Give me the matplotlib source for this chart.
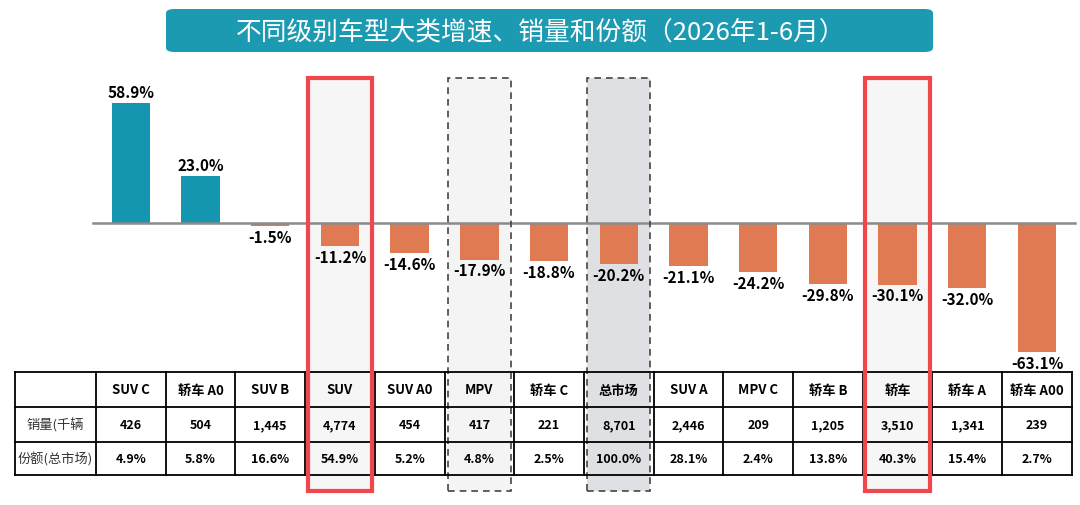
import matplotlib
matplotlib.use("Agg")
import matplotlib.pyplot as plt
from matplotlib.patches import Rectangle, FancyBboxPatch

plt.rcParams['font.family'] = ['Noto Sans CJK SC', 'DejaVu Sans']

# 数据
categories = ["SUV C", "轿车 A0", "SUV B", "SUV", "SUV A0", "MPV", "轿车 C",
              "总市场", "SUV A", "MPV C", "轿车 B", "轿车", "轿车 A", "轿车 A00"]
growth = [58.9, 23.0, -1.5, -11.2, -14.6, -17.9, -18.8,
          -20.2, -21.1, -24.2, -29.8, -30.1, -32.0, -63.1]
sales = ["426", "504", "1,445", "4,774", "454", "417", "221",
         "8,701", "2,446", "209", "1,205", "3,510", "1,341", "239"]
share = ["4.9%", "5.8%", "16.6%", "54.9%", "5.2%", "4.8%", "2.5%",
         "100.0%", "28.1%", "2.4%", "13.8%", "40.3%", "15.4%", "2.7%"]
row_labels = ["销量(千辆", "份额(总市场)"]
title = "不同级别车型大类增速、销量和份额（2026年1-6月）"

red_boxes = ["SUV", "轿车"]
dashed_boxes = {"MPV": "#f4f4f4", "总市场": "#dfe0e3"}

POS = "#1596b0"
NEG = "#e07a52"

W, H = 1080, 506
fig = plt.figure(figsize=(W / 100, H / 100), dpi=100)
ax = fig.add_axes([0, 0, 1, 1])

# 像素 -> 数据 (x: 每列 69.7px, y: 每个百分点 2.045px, 零线在 y=224px)
col_w = 69.7
x_c0 = 130.85
y_zero = 224
y_scale = 2.045
ax.set_xlim(-x_c0 / col_w, (W - x_c0) / col_w)
ax.set_ylim(-(H - y_zero) / y_scale, y_zero / y_scale)
ax.axis("off")


def py(p):
    return (y_zero - p) / y_scale


x = list(range(len(categories)))

# 背景框
box_top, box_bot = py(79), py(492)
for name, fc in dashed_boxes.items():
    i = categories.index(name)
    ax.add_patch(Rectangle((i - 0.45, box_bot), 0.9, box_top - box_bot,
                           facecolor=fc, edgecolor="none", zorder=0))
    ax.add_patch(Rectangle((i - 0.45, box_bot), 0.9, box_top - box_bot,
                           facecolor="none", edgecolor="#444444", lw=1.2,
                           ls=(0, (4, 3)), zorder=4))
for name in red_boxes:
    i = categories.index(name)
    ax.add_patch(Rectangle((i - 0.46, box_bot), 0.92, box_top - box_bot,
                           facecolor="#f6f6f6", edgecolor="none", zorder=0))
    ax.add_patch(Rectangle((i - 0.46, box_bot), 0.92, box_top - box_bot,
                           facecolor="none", edgecolor="#f0474d", lw=3,
                           zorder=6))

# 柱形
colors = [POS if v >= 0 else NEG for v in growth]
ax.bar(x, growth, width=0.55, color=colors, zorder=2)
ax.plot([-0.55, 13.55], [0, 0], color="#8a8a8a", lw=1.8, zorder=3)

for i, v in enumerate(growth):
    off = 4.3 if v >= 0 else -11.3
    ax.annotate(f"{v:.1f}%", (i, v), xytext=(0, off), textcoords="offset points",
                ha="center", va="baseline", fontsize=11, fontweight="bold", zorder=7)

# 表格
rows_px = [373, 408, 443, 476]
ys = [py(p) for p in rows_px]
x_left = -0.5 - (96 - 15) / col_w
x_right = len(categories) - 0.5
lw = 1.3
for yv in ys:
    ax.plot([x_left, x_right], [yv, yv], color="black", lw=lw, zorder=5)
for xv in [x_left] + [i - 0.5 for i in range(len(categories) + 1)]:
    ax.plot([xv, xv], [ys[0], ys[-1]], color="black", lw=lw, zorder=5)

yc = [(ys[k] + ys[k + 1]) / 2 for k in range(3)]
for i, name in enumerate(categories):
    ax.text(i, yc[0], name, ha="center", va="center", fontsize=9.5,
            fontweight="bold", zorder=6)
    ax.text(i, yc[1], sales[i], ha="center", va="center", fontsize=9,
            fontweight="bold", zorder=6)
    ax.text(i, yc[2], share[i], ha="center", va="center", fontsize=9,
            fontweight="bold", zorder=6)
x_lab = (x_left - 0.5) / 2
for k, lab in enumerate(row_labels):
    ax.text(x_lab, yc[k + 1], lab, ha="center", va="center", fontsize=9.5,
            color="#333333", zorder=6)

# 标题
banner = FancyBboxPatch((166 / W, 1 - 53 / H), 767 / W, 43 / H,
                        boxstyle="round,pad=0,rounding_size=0.008",
                        transform=fig.transFigure, facecolor="#1c9ab1",
                        edgecolor="none", zorder=1)
fig.patches.append(banner)
fig.text(541 / W, 1 - 33 / H, title, ha="center", va="center",
         fontsize=18.5, color="white")

fig.savefig("out.png", dpi=100)
